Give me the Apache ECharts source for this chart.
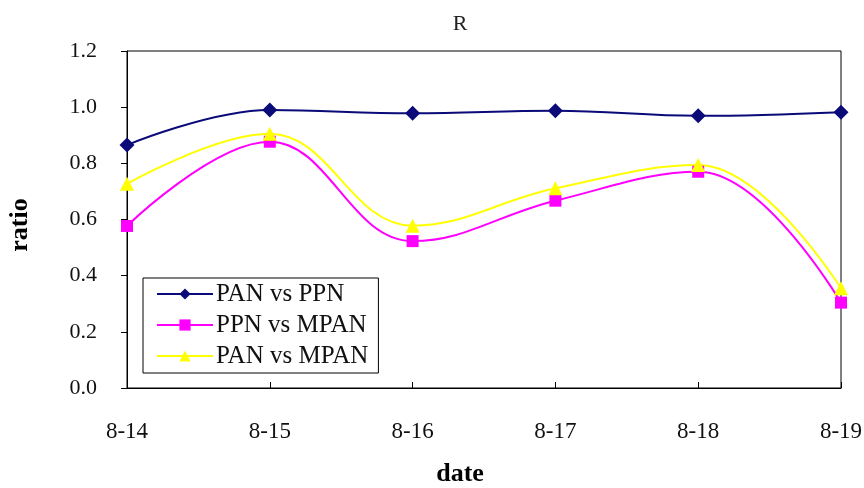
<!DOCTYPE html>
<html>
<head>
<meta charset="utf-8">
<script src="https://cdn.jsdelivr.net/npm/echarts@6/dist/echarts.min.js"></script>
<style>html,body{margin:0;padding:0;background:#fff}#c{width:864px;height:488px}</style>
</head>
<body>
<div id="c"></div>
<script>
var categories = ['8-14', '8-15', '8-16', '8-17', '8-18', '8-19'];
var panVsPpn = [0.865, 0.99, 0.978, 0.987, 0.969, 0.982];
var ppnVsMpan = [0.577, 0.877, 0.523, 0.667, 0.770, 0.304];
var panVsMpan = [0.727, 0.905, 0.578, 0.711, 0.794, 0.355];
var yTicks = ['0.0', '0.2', '0.4', '0.6', '0.8', '1.0', '1.2'];
var xTitle = 'date';
var yTitle = 'ratio';

var serif = '"Liberation Serif", "Times New Roman", serif';
var chart = echarts.init(document.getElementById('c'));
function mk(name, data, color, symbol, size) {
  return {
    name: name, type: 'line', data: data, smooth: 0.4,
    symbol: symbol, symbolSize: size,
    lineStyle: { color: color, width: 2 },
    itemStyle: { color: color },
    animation: false
  };
}
chart.setOption({
  backgroundColor: '#fff',
  animation: false,
  title: {
    text: 'R', left: 455, top: 8, textAlign: 'center',
    textStyle: { fontFamily: serif, fontSize: 22, fontWeight: 'normal', color: '#222' }
  },
  graphic: [
    { type: 'text', x: 460, y: 474, style: { text: xTitle, font: 'bold 26px ' + serif, fill: '#000', align: 'center', verticalAlign: 'middle' } },
    { type: 'text', x: 20, y: 225, rotation: Math.PI / 2, style: { text: yTitle, font: 'bold 26px ' + serif, fill: '#000', align: 'center', verticalAlign: 'middle' } }
  ],
  grid: { left: 127, right: 23, top: 51, bottom: 100, show: true, borderColor: '#000', borderWidth: 1,
    containLabel: false, outerBoundsMode: 'none' },
  legend: {
    orient: 'vertical', left: 143, top: 278,
    padding: [3, 10, 4, 13], itemGap: 5, itemWidth: 56, itemHeight: 14,
    backgroundColor: '#fff', borderColor: '#000', borderWidth: 1,
    textStyle: { fontFamily: serif, fontSize: 25, lineHeight: 26, color: '#111', padding: [0, 0, 0, -2] },
    data: ['PAN vs PPN', 'PPN vs MPAN', 'PAN vs MPAN']
  },
  xAxis: {
    type: 'category', data: categories, boundaryGap: false,
    axisLine: { lineStyle: { color: '#000', width: 1 } },
    axisTick: { inside: true, length: 6, lineStyle: { color: '#000' } },
    axisLabel: { fontFamily: serif, fontSize: 23, color: '#111', margin: 32 },
    splitLine: { show: false }
  },
  yAxis: {
    type: 'value', min: 0, max: 1.2, interval: 0.2,
    axisLine: { show: true, lineStyle: { color: '#000', width: 1 } },
    axisTick: { show: true, inside: false, length: 6, lineStyle: { color: '#000' } },
    axisLabel: { fontFamily: serif, fontSize: 22, color: '#111', margin: 30,
      formatter: function (v) { return yTicks[Math.round(v / 0.2)]; } },
    splitLine: { show: false }
  },
  series: [
    mk('PAN vs PPN', panVsPpn, '#0a0a78', 'diamond', 15),
    mk('PPN vs MPAN', ppnVsMpan, '#ff00ff', 'rect', 12),
    mk('PAN vs MPAN', panVsMpan, '#ffff00', 'triangle', 14)
  ]
});
</script>
</body>
</html>
